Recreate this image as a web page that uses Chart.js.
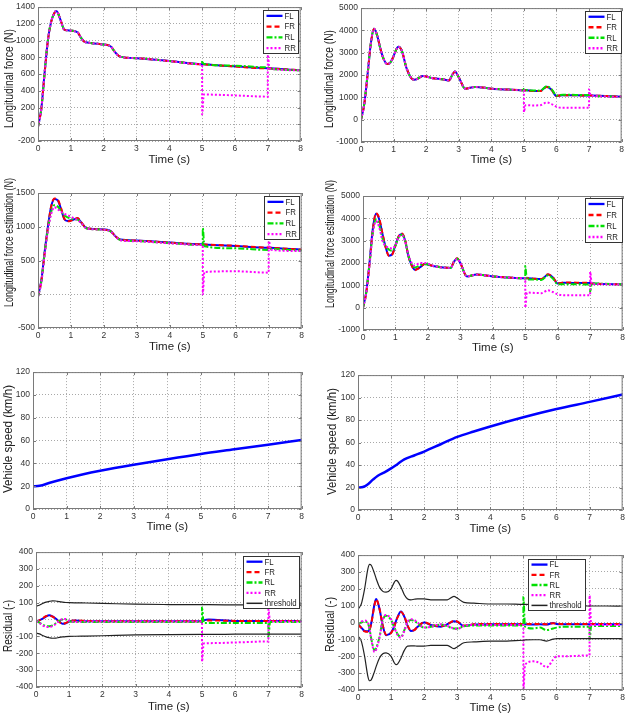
<!DOCTYPE html>
<html>
<head>
<meta charset="utf-8">
<script src="https://cdn.jsdelivr.net/npm/chart.js@4.4.1/dist/chart.umd.min.js"></script>
<style>
  body { margin: 0; background: #fff; width: 628px; height: 717px; position: relative; overflow: hidden; }
  canvas { position: absolute; }
</style>
</head>
<body>
<script>
// ---- data ----
// Panel 1: longitudinal force, left test
const t1 = [0, 0.1, 0.2, 0.3, 0.4, 0.5, 0.55, 0.6, 0.7, 0.8, 0.9, 1.0, 1.2, 1.3, 1.4, 1.6, 2.0, 2.2, 2.35, 2.5, 3, 4, 5, 5, 5.05, 6, 7, 7, 7.05, 8];
const FL1 = [-30, 180, 610, 1000, 1225, 1330, 1352, 1335, 1230, 1130, 1122, 1118, 1100, 1040, 990, 972, 952, 935, 860, 808, 790, 755, 718, 718, 716, 692, 670, 670, 668, 645];
const FR1 = [-30, 185, 600, 995, 1220, 1330, 1350, 1335, 1232, 1132, 1122, 1118, 1100, 1042, 990, 972, 952, 935, 862, 808, 790, 755, 718, 718, 716, 690, 668, 668, 667, 645];
const RL1 = [-30, 180, 610, 1000, 1225, 1330, 1352, 1335, 1230, 1130, 1122, 1118, 1100, 1040, 990, 972, 952, 935, 860, 808, 790, 755, 718, 745, 722, 700, 680, 680, 668, 645];
const RR1 = [-30, 180, 610, 1000, 1225, 1330, 1352, 1335, 1230, 1130, 1122, 1118, 1100, 1040, 990, 972, 952, 935, 860, 808, 790, 755, 718, 120, 355, 345, 330, 830, 668, 645];

// Panel 2: longitudinal force, right test
const t2 = [0, 0.1, 0.2, 0.3, 0.4, 0.5, 0.6, 0.7, 0.8, 0.9, 1.0, 1.1, 1.15, 1.25, 1.4, 1.55, 1.65, 1.9, 2.2, 2.5, 2.7, 2.8, 2.88, 3.0, 3.2, 3.5, 4.0, 4.5, 5, 5, 5.05, 5.3, 5.5, 5.7, 5.85, 6.0, 6.2, 7, 7, 7.05, 8];
const FL2 = [0, 700, 2000, 3400, 4080, 3750, 3150, 2700, 2500, 2560, 2850, 3200, 3270, 3100, 2300, 1850, 1790, 1960, 1860, 1810, 1760, 2000, 2160, 1900, 1390, 1470, 1390, 1350, 1320, 1320, 1320, 1290, 1290, 1480, 1340, 1060, 1100, 1080, 1080, 1080, 1030];
const FR2 = [0, 680, 1980, 3380, 4060, 3760, 3160, 2700, 2500, 2550, 2840, 3190, 3260, 3100, 2310, 1850, 1790, 1950, 1860, 1810, 1760, 2000, 2150, 1900, 1390, 1470, 1390, 1350, 1320, 1320, 1310, 1280, 1280, 1470, 1340, 1060, 1100, 1080, 1080, 1080, 1030];
const RL2 = [0, 700, 2000, 3400, 4080, 3750, 3150, 2700, 2500, 2560, 2850, 3200, 3270, 3100, 2300, 1850, 1790, 1960, 1860, 1810, 1760, 2000, 2160, 1900, 1390, 1470, 1390, 1350, 1320, 1380, 1330, 1310, 1300, 1500, 1370, 1080, 1120, 1100, 1100, 1080, 1030];
const RR2 = [0, 700, 2000, 3400, 4080, 3750, 3150, 2700, 2500, 2560, 2850, 3200, 3270, 3100, 2300, 1850, 1790, 1960, 1860, 1810, 1760, 2000, 2160, 1900, 1390, 1470, 1390, 1350, 1320, 340, 650, 640, 650, 770, 700, 580, 530, 540, 1350, 1080, 1030];

// Panel 3: force estimation, left test
const t3 = [0, 0.1, 0.2, 0.3, 0.4, 0.5, 0.6, 0.7, 0.8, 0.9, 1.0, 1.1, 1.2, 1.3, 1.45, 1.6, 2.0, 2.2, 2.35, 2.5, 3, 4, 5, 5, 5.05, 6, 7, 7, 7.05, 8];
const FL3 = [-30, 200, 620, 1000, 1300, 1410, 1390, 1260, 1110, 1085, 1095, 1110, 1125, 1070, 985, 970, 960, 940, 860, 810, 795, 765, 740, 740, 738, 715, 690, 690, 688, 660];
const FR3 = [-30, 190, 600, 990, 1300, 1420, 1400, 1275, 1120, 1080, 1090, 1110, 1130, 1075, 985, 970, 955, 935, 860, 810, 795, 765, 740, 740, 738, 718, 692, 692, 690, 662];
const RL3 = [-35, 180, 600, 960, 1220, 1320, 1300, 1230, 1170, 1140, 1120, 1110, 1105, 1060, 980, 965, 955, 930, 855, 805, 788, 758, 730, 980, 710, 680, 655, 655, 670, 645];
const RR3 = [-40, 170, 580, 940, 1190, 1290, 1260, 1220, 1190, 1170, 1150, 1120, 1100, 1060, 980, 965, 955, 930, 855, 800, 785, 755, 730, 0, 330, 340, 320, 850, 660, 640];

// Panel 4: force estimation, right test
const t4 = [0, 0.1, 0.2, 0.3, 0.4, 0.5, 0.6, 0.7, 0.8, 0.9, 1.0, 1.1, 1.2, 1.3, 1.4, 1.5, 1.6, 1.75, 1.9, 2.2, 2.7, 2.8, 2.9, 3.0, 3.2, 3.5, 4, 5, 5, 5.05, 5.3, 5.5, 5.7, 5.85, 6.0, 6.2, 7, 7, 7.05, 8];
const FL4 = [0, 700, 2000, 3500, 4200, 3950, 3300, 2700, 2330, 2400, 2800, 3200, 3300, 3000, 2300, 1900, 1700, 1800, 1950, 1850, 1780, 2050, 2200, 2000, 1400, 1480, 1400, 1320, 1320, 1320, 1290, 1280, 1480, 1350, 1080, 1120, 1100, 1100, 1080, 1050];
const FR4 = [0, 650, 1950, 3450, 4230, 4000, 3320, 2700, 2320, 2380, 2780, 3200, 3320, 3020, 2300, 1880, 1680, 1790, 1950, 1860, 1780, 2060, 2210, 2000, 1400, 1480, 1400, 1320, 1320, 1320, 1290, 1280, 1500, 1360, 1090, 1130, 1110, 1110, 1085, 1050];
const RL4 = [0, 660, 1950, 3350, 3950, 3700, 3100, 2750, 2600, 2550, 2780, 3150, 3270, 2980, 2330, 1950, 1800, 1900, 1960, 1850, 1780, 2050, 2190, 2000, 1400, 1480, 1400, 1320, 1850, 1260, 1260, 1240, 1450, 1300, 1050, 1050, 1040, 720, 1080, 1050];
const RR4 = [0, 650, 1900, 3300, 3880, 3600, 3000, 2750, 2700, 2650, 2800, 3150, 3250, 2950, 2350, 2000, 1880, 2000, 2000, 1850, 1780, 2050, 2180, 2000, 1400, 1480, 1400, 1320, 0, 680, 660, 650, 780, 700, 600, 560, 560, 1600, 1050, 1050];

// Panels 5 and 6: vehicle speed
const t5 = [0, 0.2, 0.5, 1, 1.5, 2, 3, 4, 5, 6, 7, 8];
const speed5 = [20, 20.3, 23, 27, 30.5, 33.5, 38.8, 43.7, 48.3, 52.3, 56.3, 60.5];
const t6 = [0, 0.15, 0.3, 0.45, 0.6, 0.8, 1, 1.2, 1.4, 1.7, 2, 2.5, 3, 3.5, 4, 5, 6, 7, 8];
const speed6 = [20, 20.5, 23, 27, 30.5, 33.5, 37, 41, 45, 48.5, 52, 58.5, 65, 69.8, 74.3, 82.5, 89.8, 96.2, 102.8];

// Panel 7: residuals, left test
const t7 = [0, 0.1, 0.2, 0.3, 0.4, 0.5, 0.6, 0.7, 0.8, 0.9, 1.0, 1.2, 1.5, 2, 3, 4, 5, 5, 5.05, 5.2, 6, 7, 7, 7.05, 8];
const FL7 = [-10, -5, 5, 18, 25, 18, 5, -12, -25, -22, -12, -6, -10, -10, -10, -10, -10, -10, -5, 0, -8, -8, -8, -8, -8];
const FR7 = [-12, -5, 8, 20, 24, 17, 3, -14, -26, -20, -10, -5, -8, -10, -10, -10, -10, -10, -8, -5, -8, -8, -8, -8, -8];
const RL7 = [-10, -18, -30, -38, -40, -35, -22, -8, 0, 0, -10, -15, -14, -14, -14, -14, -14, 70, -20, -20, -20, -20, -100, -15, -15];
const RR7 = [-10, -20, -35, -42, -45, -38, -25, -8, 2, 3, -8, -14, -12, -12, -12, -12, -12, -250, -142, -140, -136, -130, 60, -12, -12];
const thrUp7 = [80, 85, 95, 103, 108, 111, 110, 106, 103, 101, 100, 99, 98, 96, 91, 89, 88, 88, 88, 88, 87, 86, 86, 86, 86];
const thrLo7 = [-80, -85, -95, -103, -108, -111, -110, -106, -103, -101, -100, -99, -98, -96, -91, -89, -88, -88, -88, -88, -87, -86, -86, -86, -86];

// Panel 8: residuals, right test
const t8 = [0, 0.1, 0.2, 0.3, 0.35, 0.4, 0.5, 0.55, 0.65, 0.75, 0.85, 1.0, 1.1, 1.15, 1.2, 1.3, 1.4, 1.5, 1.6, 1.7, 1.8, 2.0, 2.2, 2.5, 2.7, 2.9, 3.0, 3.2, 3.5, 4, 4.5, 5, 5, 5.05, 5.3, 5.5, 5.7, 5.9, 6.0, 6.2, 7, 7, 7.05, 7.5, 8];
const FL8 = [-10, -30, -50, -52, -40, -5, 110, 140, 80, -20, -75, -60, -20, 10, 35, 65, 35, -20, -50, -45, -25, 0, -15, -25, -10, 8, 5, -20, -12, -10, -10, -10, -10, -10, -12, -10, -12, -2, -8, -10, -10, -10, -10, -10, -10];
const FR8 = [-12, -32, -52, -55, -42, -8, 105, 138, 82, -18, -72, -62, -22, 8, 32, 62, 38, -18, -48, -45, -25, 2, -12, -22, -10, 10, 6, -18, -10, -8, -8, -8, -8, -8, -8, -8, -10, -4, -6, -8, -8, -8, -8, -8, -8];
const RL8 = [-10, 0, 5, -5, -40, -95, -165, -150, -85, 15, 40, 15, -30, -50, -70, -85, -45, 0, 15, 10, -5, -30, -25, -12, -22, -35, -35, -22, -18, -18, -18, -18, 150, -25, -35, -30, -45, -35, -30, -25, -25, -100, -20, -20, -20];
const RR8 = [-10, 5, 12, 0, -40, -100, -175, -160, -90, 20, 45, 20, -30, -55, -75, -90, -50, 5, 20, 15, 0, -30, -25, -10, -20, -35, -38, -20, -15, -15, -15, -15, -400, -250, -230, -240, -265, -220, -200, -200, -195, 160, -15, -15, -15];
const thrUp8 = [80, 110, 200, 320, 345, 340, 290, 260, 210, 185, 180, 200, 240, 250, 245, 210, 165, 140, 135, 138, 140, 140, 135, 135, 135, 155, 145, 120, 115, 110, 110, 108, 108, 108, 107, 105, 103, 100, 100, 99, 98, 98, 98, 98, 97];
const thrLo8 = [-80, -110, -200, -320, -345, -340, -290, -260, -210, -185, -180, -200, -240, -250, -245, -210, -165, -140, -138, -138, -140, -140, -135, -135, -135, -155, -145, -120, -115, -110, -110, -105, -105, -103, -102, -102, -110, -98, -95, -95, -95, -95, -95, -95, -95];

const timeTicks = [0, 1, 2, 3, 4, 5, 6, 7, 8];

const FONT = '"Liberation Sans", Arial, sans-serif';
Chart.defaults.font.family = FONT;
Chart.defaults.color = '#333';

function points(t, v) {
  return t.map((x, i) => ({ x: x, y: v[i] }));
}

function line(label, t, v, color, dash, order) {
  return {
    label: label,
    data: points(t, v),
    borderColor: color,
    borderWidth: 2,
    borderDash: dash,
    pointRadius: 0,
    cubicInterpolationMode: 'monotone',
    order: order
  };
}

function wheelSets(t, fl, fr, rl, rr) {
  return [
    line('FL', t, fl, '#0000ff', [], 4),
    line('FR', t, fr, '#ff0000', [5, 3], 3),
    line('RL', t, rl, '#00e000', [6, 2, 2, 2], 2),
    line('RR', t, rr, '#ff00ff', [2, 2], 1)
  ];
}

function thresholdSets(t, up, lo) {
  const a = line('threshold', t, up, '#222', [], 0);
  const b = line('threshold', t, lo, '#222', [], 0);
  a.borderWidth = 1.2;
  b.borderWidth = 1.2;
  b.noLegend = true;
  return [a, b];
}

// Frame, inner ticks, y label and in-axes legend, MATLAB style
const framePlugin = {
  id: 'frame',
  afterDatasetsDraw(chart, args, opts) {
    const { ctx, chartArea: a, scales } = chart;
    ctx.save();
    ctx.strokeStyle = '#7a7a7a';
    ctx.lineWidth = 1;
    ctx.setLineDash([]);
    ctx.strokeRect(a.left + 0.5, a.top + 0.5, a.width - 1, a.height - 1);
    ctx.beginPath();
    scales.x.ticks.forEach(tk => {
      const px = Math.round(scales.x.getPixelForValue(tk.value)) + 0.5;
      ctx.moveTo(px, a.bottom); ctx.lineTo(px, a.bottom - 3);
      ctx.moveTo(px, a.top); ctx.lineTo(px, a.top + 3);
    });
    scales.y.ticks.forEach(tk => {
      const py = Math.round(scales.y.getPixelForValue(tk.value)) + 0.5;
      ctx.moveTo(a.left, py); ctx.lineTo(a.left + 3, py);
      ctx.moveTo(a.right, py); ctx.lineTo(a.right - 3, py);
    });
    ctx.stroke();

    if (opts.box) {
      const [gap, top, w, h] = opts.box;
      const entries = chart.data.datasets.filter(d => !d.noLegend);
      const x0 = Math.round(a.right - gap - w) + 0.5;
      const y0 = Math.round(a.top + top) + 0.5;
      ctx.fillStyle = '#fff';
      ctx.fillRect(x0, y0, w, h);
      ctx.strokeStyle = '#333';
      ctx.strokeRect(x0, y0, w, h);
      const rowH = h / entries.length;
      ctx.font = '8.5px ' + FONT;
      ctx.textBaseline = 'middle';
      ctx.textAlign = 'left';
      entries.forEach((d, i) => {
        const y = y0 + rowH * (i + 0.5);
        ctx.strokeStyle = d.borderColor;
        ctx.lineWidth = d.borderWidth + 0.3;
        ctx.setLineDash(d.borderDash || []);
        ctx.beginPath();
        ctx.moveTo(x0 + 3, y);
        ctx.lineTo(x0 + 19, y);
        ctx.stroke();
        ctx.setLineDash([]);
        ctx.fillStyle = '#222';
        ctx.save();
        ctx.translate(x0 + 21, y + 0.5);
        ctx.scale(0.92, 1);
        ctx.fillText(d.label, 0, 0);
        ctx.restore();
      });
    }

    if (opts.yTitle) {
      // the source figure is squeezed along the label, so fit it to its measured span
      const { text, x, from, to, ox, oy } = opts.yTitle;
      ctx.font = '12.5px ' + FONT;
      const w = ctx.measureText(text).width;
      ctx.translate(x - ox, (from + to) / 2 - oy);
      ctx.rotate(-Math.PI / 2);
      ctx.scale((to - from) / w, 1);
      ctx.textAlign = 'center';
      ctx.textBaseline = 'middle';
      ctx.fillStyle = '#222';
      ctx.fillText(text, 0, 0);
    }
    ctx.restore();
  }
};

const panels = [
  { plot: [38, 301, 6, 141], yTitleX: 10, ySpan: [29, 128], xTitleY: 160, y: [-200, 1400, 200], yTitle: 'Longitudinal force (N)',
    sets: wheelSets(t1, FL1, FR1, RL1, RR1), box: [3, 3, 35, 43] },
  { plot: [361, 622, 7, 142], yTitleX: 330, ySpan: [30, 128], xTitleY: 160, y: [-1000, 5000, 1000], yTitle: 'Longitudinal force (N)',
    sets: wheelSets(t2, FL2, FR2, RL2, RR2), box: [1, 3, 36, 42] },
  { plot: [38, 302, 193, 328], yTitleX: 9.5, ySpan: [178, 307], xTitleY: 347.7, y: [-500, 1500, 500], yTitle: 'Longitudinal force estimation (N)',
    sets: wheelSets(t3, FL3, FR3, RL3, RR3), box: [3, 3, 35, 43] },
  { plot: [363, 623, 196, 330], yTitleX: 330.7, ySpan: [180, 308], xTitleY: 348.7, y: [-1000, 5000, 1000], yTitle: 'Longitudinal force estimation (N)',
    sets: wheelSets(t4, FL4, FR4, RL4, RR4), box: [1, 2, 37, 44] },
  { plot: [33, 302, 371, 509], yTitleX: 9, ySpan: [385, 493], xTitleY: 527.7, y: [0, 120, 20], yTitle: 'Vehicle speed (km/h)',
    sets: [Object.assign(line('speed', t5, speed5, '#0000ff', [], 0), { borderWidth: 2.5 })], box: null },
  { plot: [358, 623, 374, 510], yTitleX: 332.7, ySpan: [388, 495], xTitleY: 529, y: [0, 120, 20], yTitle: 'Vehicle speed (km/h)',
    sets: [Object.assign(line('speed', t6, speed6, '#0000ff', [], 0), { borderWidth: 2.5 })], box: null },
  { plot: [36, 302, 551, 687], yTitleX: 8.3, ySpan: [600, 652], xTitleY: 707.3, y: [-400, 400, 100], yTitle: 'Residual (-)',
    sets: wheelSets(t7, FL7, FR7, RL7, RR7).concat(thresholdSets(t7, thrUp7, thrLo7)), box: [3, 4, 56, 52] },
  { plot: [358, 623, 554, 690], yTitleX: 330.7, ySpan: [597, 652], xTitleY: 708, y: [-400, 400, 100], yTitle: 'Residual (-)',
    sets: wheelSets(t8, FL8, FR8, RL8, RR8).concat(thresholdSets(t8, thrUp8, thrLo8)), box: [38, 4, 57, 51] }
];

panels.forEach(p => {
  const [l, r, t, b] = p.plot;
  const ct = Math.min(t - 7, p.ySpan[0] - 3);
  const cr = Math.min(r + 5, 628);
  const cb = Math.round(p.xTitleY + 6.6);
  const left = l < 314 ? 0 : 318;
  const cv = document.createElement('canvas');
  cv.width = cr - left;
  cv.height = cb - ct;
  cv.style.left = left + 'px';
  cv.style.top = ct + 'px';
  document.body.appendChild(cv);

  const yW = l - left;
  const xH = cb - b;

  new Chart(cv, {
    type: 'line',
    data: { datasets: p.sets },
    options: {
      responsive: false,
      animation: false,
      devicePixelRatio: 1,
      layout: { padding: { left: 0, top: t - ct, right: cr - r, bottom: 0 } },
      plugins: {
        legend: { display: false },
        tooltip: { enabled: false },
        frame: {
          box: p.box,
          yTitle: { text: p.yTitle, x: p.yTitleX, from: p.ySpan[0], to: p.ySpan[1], ox: left, oy: ct }
        }
      },
      scales: {
        x: {
          type: 'linear', min: 0, max: 8,
          afterBuildTicks: s => { s.ticks = timeTicks.map(v => ({ value: v })); },
          grid: { color: '#a8a8a8', drawTicks: false },
          border: { display: false, dash: [1, 2] },
          ticks: { font: { size: 8.5 }, padding: 3, color: '#333', maxRotation: 0, autoSkip: false, callback: v => String(v) },
          title: { display: true, text: 'Time (s)', font: { size: 11.5 }, color: '#222', padding: 0 },
          afterFit: s => { s.height = xH; }
        },
        y: {
          type: 'linear', min: p.y[0], max: p.y[1],
          grid: { color: '#a8a8a8', drawTicks: false },
          border: { display: false, dash: [1, 2] },
          ticks: { stepSize: p.y[2], font: { size: 8.5 }, padding: 3, color: '#333', autoSkip: false, callback: v => String(v) },
          title: { display: false },
          afterFit: s => { s.width = yW; }
        }
      }
    },
    plugins: [framePlugin]
  });
});
</script>
</body>
</html>
